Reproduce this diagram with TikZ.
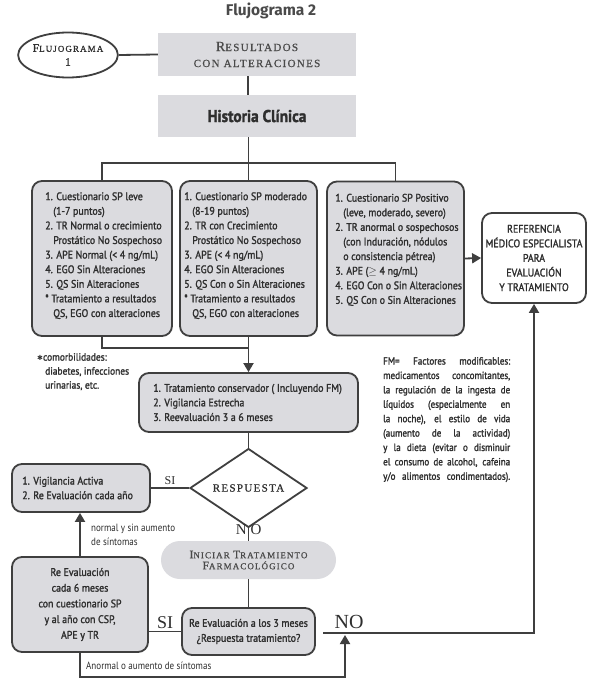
\documentclass[tikz,border=0pt]{standalone}
\usepackage{fontspec}
\usetikzlibrary{shapes.geometric,arrows.meta}
\newfontfamily\condfont[FakeStretch=0.9,FakeBold=1.6]{PT Sans}
\newfontfamily\fmfont[FakeStretch=0.87,FakeBold=1.6]{PT Sans}
\newfontfamily\lightfont[FakeStretch=0.86]{PT Sans}
\newfontfamily\headfont{Fira Sans}
\newfontfamily\capsfont[LetterSpace=12,FakeBold=0.8]{Liberation Serif}
\newfontfamily\serifplain{Liberation Serif}
\newfontfamily\symfont{DejaVu Sans}
\newcommand{\ScBig}[1]{{\fontsize{14}{16}\selectfont #1}}
\newcommand{\ScMid}[1]{{\fontsize{11.5}{14}\selectfont #1}}
\newcommand{\fmline}[1]{\leavevmode\hbox to 127pt{\spaceskip=0.15em plus 1fil\relax #1}}
\definecolor{boxgray}{HTML}{DBDBDF}
\definecolor{ink}{HTML}{2E2E2E}
\definecolor{edge}{HTML}{3F3F3F}
\definecolor{headgray}{HTML}{4A4A4A}
\tikzset{
 conn/.style={draw=edge, line width=1.8pt},
 arr/.style={conn, -{Triangle[length=9pt,width=10pt]}},
 flatbox/.style={fill=boxgray, inner sep=0pt},
 rbox/.style={draw=edge, line width=1.8pt, fill=boxgray, rounded corners=10pt, inner sep=0pt},
 wbox/.style={draw=edge, line width=1.8pt, fill=white, rounded corners=10pt, inner sep=0pt},
 btext/.style={font=\condfont\fontsize{11}{14.6}\selectfont, text=ink, align=left, inner sep=0pt},
 ctext/.style={font=\condfont\fontsize{11}{14.6}\selectfont, text=ink, align=center},
 lbl/.style={text=ink, inner sep=0pt},
 smalllbl/.style={font=\lightfont\fontsize{10.5}{14}\selectfont, text=ink, align=left, inner sep=0pt},
}
\begin{document}
\begin{tikzpicture}[x=1pt,y=-1pt]
\useasboundingbox[fill=white] (0,0) rectangle (590,687);

\node[font=\headfont\bfseries\fontsize{15.5}{18}\selectfont, text=headgray] (title) at (271,11) {Flujograma 2};

\node[ellipse, draw=edge, line width=1.8pt, minimum width=97pt, minimum height=45pt, inner sep=0pt, align=center, font=\capsfont\fontsize{9}{14}\selectfont, text=ink] (f1) at (68,55) {\ScMid{F}LUJOGRAMA\\\ScMid{1}};

\node[flatbox, minimum width=198pt, minimum height=43pt, align=center, font=\capsfont\fontsize{11}{16}\selectfont, text=headgray] (res) at (257,54.5) {\ScBig{R}ESULTADOS\\CON ALTERACIONES};
\node[flatbox, minimum width=198pt, minimum height=42pt, font=\condfont\bfseries\fontsize{17}{20}\selectfont, text=ink] (hc) at (257,116) {Historia Clínica};

% three boxes
\node[rbox, minimum width=140pt, minimum height=155pt] (b1) at (102,258.5) {};
\node[btext, anchor=north west] (t1) at ([xshift=14pt,yshift=-12pt]b1.north west) {1. Cuestionario SP leve\\
\hspace*{8pt}(1-7 puntos)\\
2. TR Normal o crecimiento\\
\hspace*{8pt}Prostático No Sospechoso\\
3. APE Normal (< 4 ng/mL)\\
4. EGO Sin Alteraciones\\
5. QS Sin Alteraciones\\
* Tratamiento a resultados\\
\hspace*{8pt}QS, EGO con alteraciones};

\node[rbox, minimum width=137pt, minimum height=155pt] (b2) at (248.5,258.5) {};
\node[btext, anchor=north west] (t2) at ([xshift=5pt,yshift=-12pt]b2.north west) {1. Cuestionario SP moderado\\
\hspace*{8pt}(8-19 puntos)\\
2. TR con Crecimiento\\
\hspace*{8pt}Prostático No Sospechoso\\
3. APE (< 4 ng/mL)\\
4. EGO Sin Alteraciones\\
5. QS Con o Sin Alteraciones\\
* Tratamiento a resultados\\
\hspace*{8pt}QS, EGO con alteraciones};

\node[rbox, minimum width=137pt, minimum height=154pt] (b3) at (395.5,258.5) {};
\node[btext, anchor=north west] (t3) at ([xshift=9pt,yshift=-13pt]b3.north west) {1. Cuestionario SP Positivo\\
\hspace*{8pt}(leve, moderado, severo)\\
2. TR anormal o sospechosos\\
\hspace*{8pt}(con Induración, nódulos\\
\hspace*{8pt}o consistencia pétrea)\\
3. APE ($\geq$ 4 ng/mL)\\
4. EGO Con o Sin Alteraciones\\
5. QS Con o Sin Alteraciones};

\node[wbox, ctext, minimum width=104pt, minimum height=90pt] (ref) at (534,258) {REFERENCIA\\MÉDICO ESPECIALISTA\\PARA\\EVALUACIÓN\\Y TRATAMIENTO};

% conservative treatment
\node[rbox, minimum width=219pt, minimum height=59pt] (trat) at (248.5,402.5) {};
\node[btext, anchor=west] (ttrat) at ([xshift=15pt]trat.west) {1. Tratamiento conservador ( Incluyendo FM)\\2. Vigilancia Estrecha\\3. Reevaluación 3 a 6 meses};

\node[btext, anchor=north west, font=\condfont\fontsize{10.5}{14}\selectfont] (comorb) at (37,353) {{\symfont\fontsize{7}{7}\selectfont ✱}comorbilidades:\\\hspace*{8pt}diabetes, infecciones\\\hspace*{8pt}urinarias, etc.};

\node[btext, anchor=north west, font=\fmfont\fontsize{10.4}{14.4}\selectfont] (fm) at (383,357) {\fmline{FM= Factores modificables:}\\
\fmline{medicamentos concomitantes,}\\
\fmline{la regulación de la ingesta de}\\
\fmline{líquidos (especialmente en}\\
\fmline{la noche), el estilo de vida}\\
\fmline{(aumento de la actividad)}\\
\fmline{y la dieta (evitar o disminuir}\\
\fmline{el consumo de alcohol, cafeina}\\
\fmline{y/o alimentos condimentados).}};

\node[diamond, draw=edge, line width=1.8pt, minimum width=117pt, minimum height=55pt, inner sep=0pt, font=\capsfont\fontsize{11}{12}\selectfont, text=ink] (dia) at (248.5,488) {RESPUESTA};

\node[rbox, minimum width=138pt, minimum height=48pt] (vig) at (81,488) {};
\node[btext, anchor=west] (tvig) at ([xshift=11pt]vig.west) {1. Vigilancia Activa\\2. Re Evaluación cada año};

\node[flatbox, rounded corners=19pt, minimum width=175pt, minimum height=38pt, font=\capsfont\fontsize{9}{11}\selectfont, text=headgray, align=center] (pill) at (248.5,560) {\ScMid{I}NICIAR \ScMid{T}RATAMIENTO\\\ScMid{F}ARMACOLÓGICO};

\node[rbox, ctext, minimum width=133pt, minimum height=47pt, font=\condfont\fontsize{11}{15}\selectfont] (sb) at (248.5,631.5) {Re Evaluación a los 3 meses\\¿Respuesta tratamiento?};

\node[rbox, ctext, minimum width=136pt, minimum height=95pt, font=\condfont\fontsize{11}{15.7}\selectfont] (re6) at (80,604.5) {Re Evaluación\\cada 6 meses\\con cuestionario SP\\y al año con CSP,\\APE y TR};

% labels
\node[lbl, font=\serifplain\fontsize{15}{15}\selectfont, anchor=east] (nlab) at (247,530) {N};
\node[lbl, font=\serifplain\fontsize{15}{15}\selectfont, anchor=west] (olab) at (250.5,530) {O};
\node[lbl, font=\serifplain\fontsize{20}{20}\selectfont] (nolab) at (349,622) {NO};
\node[smalllbl, anchor=north west] (normlbl) at (91,524) {normal y sin aumento\\de síntomas};
\node[smalllbl, anchor=west] (anlbl) at (86,666) {Anormal o aumento de síntomas};

\coordinate (nostart) at (323,633);
\coordinate (notip) at (345,635);

% connectors
\draw[conn] (f1.east) -- (res.west);
\draw[conn] ([xshift=-9pt]res.south) -- ([xshift=-9pt]hc.north);
\draw[conn] ([xshift=-8.5pt]hc.south) -- (b2.north);
\draw[conn] (b1.north) -- ++(0,-17) -| (b3.north);
\draw[arr] (b3.east) -- (ref.west);
\draw[conn] (b1.south) -- ++(0,11) -| (b2.south);
\draw[arr] (b2.south) -- (trat.north);
\draw[conn] (trat.south) -- (dia.north);
\draw[conn] (vig.east) -- (dia.west) node[midway, above=2pt, lbl, font=\serifplain\fontsize{12}{12}\selectfont] (si1) {SI};
\draw[conn] (dia.south) -- (pill.north);
\draw[conn] (pill.south) -- (sb.north);
\draw[conn] (re6.east |- sb.west) -- (sb.west) node[midway, above=2pt, lbl, font=\serifplain\fontsize{18}{18}\selectfont] (si2) {SI};
\draw[arr] (re6.north) -- (re6.north |- vig.south);
\draw[arr] (nostart) -| (ref.south);
\draw[arr] (re6.south) -- ++(0,24) -| (notip);
\end{tikzpicture}
\end{document}
